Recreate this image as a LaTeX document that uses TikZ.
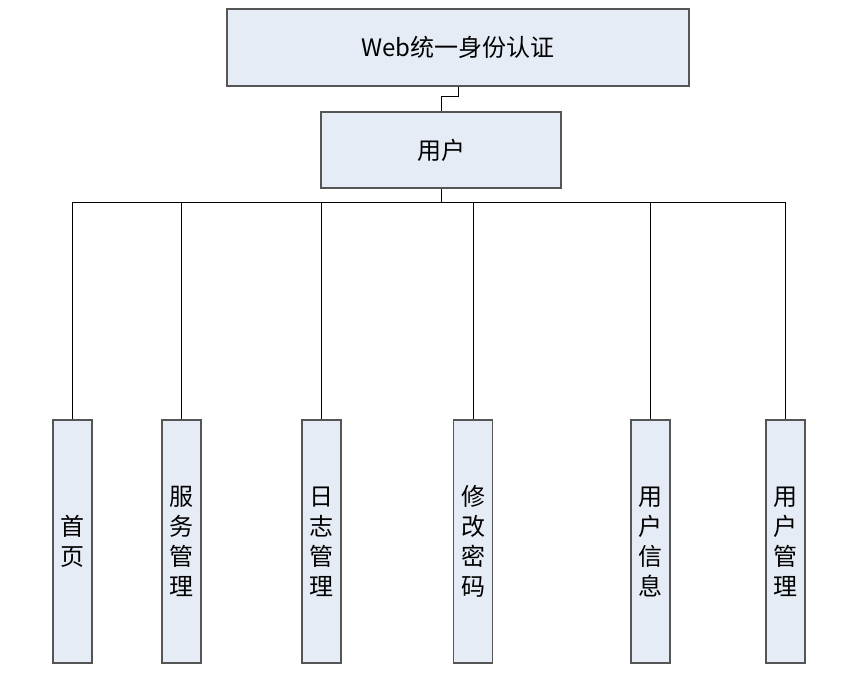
\documentclass[tikz,border=0pt]{standalone}
\usepackage{fontspec}
\newfontfamily\cjk{Noto Sans CJK SC}
\usepackage{tikz}
\usetikzlibrary{positioning,calc}
\definecolor{boxfill}{RGB}{230,236,246}
\definecolor{boxline}{RGB}{85,85,85}

\begin{document}
\begin{tikzpicture}[x=1pt,y=-1pt,
  box/.style={draw=boxline,fill=boxfill,line width=1.2pt,inner sep=0pt,
    font=\cjk\fontsize{24}{30}\selectfont},
  leaf/.style={box,minimum width=39,minimum height=243,align=center},
  wire/.style={black,line width=0.8pt}]
\useasboundingbox (0,0) rectangle (854,678);
% top levels
\node[box,minimum width=462,minimum height=77] (web) at (458,47.5) {Web统一身份认证};
\node[box,minimum width=240,minimum height=76] (user) at (441,150) {用户};
\draw[wire] (web.south) -- ++(0,10) -| (user.north);
% modules
\foreach \n/\x/\t in {home/72.5/{首\\页},service/181.5/{服\\务\\管\\理},
  log/321.5/{日\\志\\管\\理},passwd/473/{修\\改\\密\\码},
  info/650.5/{用\\户\\信\\息},manage/785.5/{用\\户\\管\\理}}{
  \node[leaf] (\n) at (\x,541.5) {\t};
}
\draw[wire] (user.south) -- ++(0,14) coordinate (bus);
\foreach \n in {home,service,log,passwd,info,manage}
  \draw[wire] (bus) -| (\n.north);
\end{tikzpicture}
\end{document}
